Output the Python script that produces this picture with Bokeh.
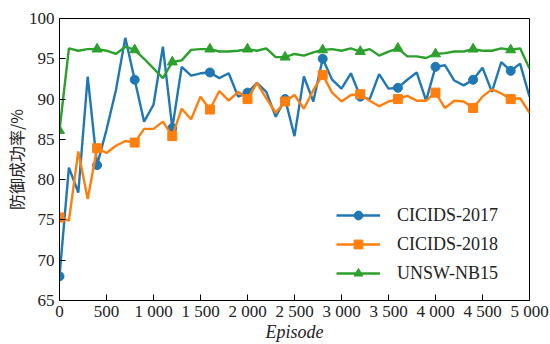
from bokeh.plotting import figure
from bokeh.models import FixedTicker, Range1d, Legend, LegendItem
from bokeh.embed import file_html
from bokeh.resources import INLINE

episodes = list(range(0, 5001, 100))

cicids2017 = [68.0, 81.5, 78.4, 92.8, 81.8, 86.2, 91.1, 97.6, 92.4, 87.2,
              89.3, 96.5, 86.4, 94.0, 92.9, 93.2, 93.3, 92.6, 93.2, 90.3,
              90.8, 92.0, 90.9, 87.8, 90.0, 85.4, 92.8, 89.7, 95.0, 92.4,
              91.3, 93.2, 90.3, 90.0, 93.1, 91.3, 91.4, 92.4, 93.3, 89.8,
              94.0, 94.2, 92.3, 91.7, 92.4, 93.9, 90.9, 94.6, 93.5, 94.4,
              90.3]

cicids2018 = [75.3, 74.9, 83.5, 77.6, 83.9, 83.3, 84.2, 84.8, 84.6, 86.3,
              86.3, 87.2, 85.4, 88.8, 87.5, 90.3, 88.7, 91.0, 89.8, 90.9,
              90.0, 92.0, 90.1, 88.3, 89.7, 90.5, 88.8, 91.1, 93.0, 90.8,
              89.7, 90.5, 90.6, 89.8, 89.1, 89.7, 90.0, 90.4, 89.8, 89.8,
              90.8, 88.9, 89.8, 89.7, 88.9, 90.3, 91.2, 90.7, 90.0, 90.1,
              88.3]

unsw_nb15 = [86.1, 96.3, 96.0, 96.2, 96.2, 96.0, 95.6, 96.5, 96.1, 95.0,
             93.8, 92.6, 94.6, 94.8, 96.1, 96.2, 96.2, 95.9, 95.9, 96.0,
             96.2, 96.0, 96.3, 95.2, 95.2, 95.6, 95.4, 95.8, 96.1, 96.2,
             96.0, 96.3, 95.9, 96.2, 95.4, 95.9, 96.3, 95.3, 95.3, 95.1,
             95.6, 95.7, 95.9, 95.9, 96.2, 96.0, 96.0, 96.3, 96.1, 96.3,
             93.8]

series_names = ["CICIDS-2017", "CICIDS-2018", "UNSW-NB15"]
x_ticks = [0, 500, 1000, 1500, 2000, 2500, 3000, 3500, 4000, 4500, 5000]
x_tick_labels = ["0", "500", "1 000", "1 500", "2 000", "2 500", "3 000",
                 "3 500", "4 000", "4 500", "5 000"]
y_ticks = [65, 70, 75, 80, 85, 90, 95, 100]
marker_every = 4

colors = ["#1f77b4", "#ff7f0e", "#2ca02c"]
markers = ["circle", "square", "triangle"]
marker_sizes = [9, 9, 10]

p = figure(width=550, height=344, output_backend="svg", toolbar_location=None,
           x_range=Range1d(0, 5000), y_range=Range1d(65, 100),
           min_border_left=59, min_border_right=21, min_border_top=18,
           min_border_bottom=42)

p.xgrid.visible = False
p.ygrid.visible = False
p.outline_line_color = "black"
p.outline_line_width = 1
p.outline_line_alpha = 1

serif = "Liberation Serif"
for ax in (p.xaxis, p.yaxis):
    ax.major_tick_in = 6
    ax.major_tick_out = 0
    ax.minor_tick_line_color = None
    ax.axis_line_color = "black"
    ax.major_tick_line_color = "black"
    ax.major_label_text_font = serif
    ax.major_label_text_font_size = "17px"
    ax.major_label_text_color = "#222222"

p.xaxis.ticker = FixedTicker(ticks=x_ticks)
p.xaxis.major_label_overrides = {t: l for t, l in zip(x_ticks, x_tick_labels)}
p.yaxis.ticker = FixedTicker(ticks=y_ticks)
p.xaxis.major_label_standoff = 1
p.yaxis.major_label_standoff = 5
p.xaxis.axis_label = "Episode"
p.xaxis.axis_label_text_font = serif
p.xaxis.axis_label_text_font_style = "italic"
p.xaxis.axis_label_text_font_size = "18px"
p.xaxis.axis_label_text_color = "#222222"
p.xaxis.axis_label_standoff = -2
p.yaxis.axis_label = "防御成功率/%"
p.yaxis.axis_label_text_font = "Noto Sans CJK SC"
p.yaxis.axis_label_text_font_style = "normal"
p.yaxis.axis_label_text_font_size = "16px"
p.yaxis.axis_label_text_color = "#222222"
p.yaxis.axis_label_standoff = -2

items = []
for name, ys, c, m, s in zip(series_names, [cicids2017, cicids2018, unsw_nb15],
                             colors, markers, marker_sizes):
    r_line = p.line(episodes, ys, line_color=c, line_width=2.4)
    r_mark = p.scatter(episodes[::marker_every], ys[::marker_every], marker=m,
                       size=s, fill_color=c, line_color=c)
    items.append(LegendItem(label=name, renderers=[r_line, r_mark]))

legend = Legend(items=items, location=(277, 16))
legend.label_text_font = serif
legend.label_text_font_size = "18px"
legend.label_text_color = "#222222"
legend.glyph_width = 44
legend.glyph_height = 22
legend.label_height = 22
legend.spacing = 7
legend.label_standoff = 17
legend.padding = 0
legend.margin = 0
legend.border_line_alpha = 0
legend.background_fill_alpha = 0
p.add_layout(legend)

open("out.html", "w").write(file_html(p, INLINE))
